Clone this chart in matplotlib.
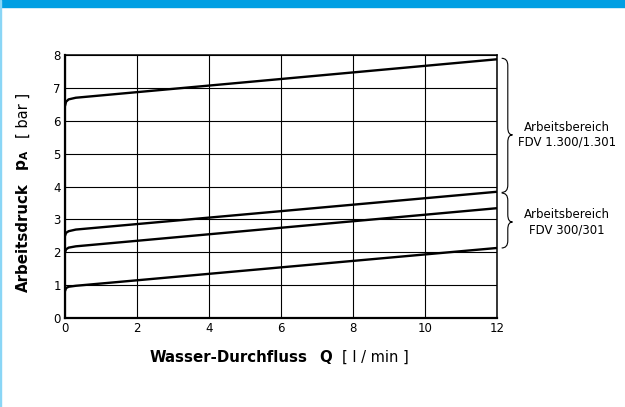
import numpy as np
import matplotlib.pyplot as plt
from matplotlib.path import Path
from matplotlib.patches import PathPatch, Rectangle

plt.rcParams['font.family'] = ['DejaVu Sans']

# Kennlinien
q = [0, 0.03, 0.1, 0.3, 12]
p_1300 = [6.45, 6.58, 6.65, 6.70, 7.87]
p_300_hi = [2.50, 2.59, 2.64, 2.69, 3.84]
p_300_lo = [2.00, 2.09, 2.14, 2.18, 3.34]
p_low = [0.82, 0.91, 0.95, 0.98, 2.13]

x_ticks = [0, 2, 4, 6, 8, 10, 12]
y_ticks = [0, 1, 2, 3, 4, 5, 6, 7, 8]

# Arbeitsbereiche: (bottom, top, tip of brace) and labels
ranges = [(3.82, 7.9, 5.57), (2.13, 3.8, 2.92)]
range_labels = ["Arbeitsbereich\nFDV 1.300/1.301", "Arbeitsbereich\nFDV 300/301"]

fig = plt.figure(figsize=(6.25, 4.07), dpi=100)
fig.patches.append(Rectangle((0, 1 - 7 / 407), 1, 7 / 407, transform=fig.transFigure,
                             color='#009fe3', zorder=0))
fig.patches.append(Rectangle((0, 0), 1.5 / 625, 1, transform=fig.transFigure,
                             color='#8ad6f6', zorder=0))

ax = fig.add_axes([65 / 625, 89 / 407, 432 / 625, 263 / 407])
ax.set_xlim(0, 12)
ax.set_ylim(0, 8)
ax.set_xticks(x_ticks)
ax.set_yticks(y_ticks)
ax.grid(True, color='black', linewidth=0.8)
ax.tick_params(length=0, labelsize=8.5, pad=3)
for s in ['left', 'bottom']:
    ax.spines[s].set_linewidth(1.6)
for s in ['top', 'right']:
    ax.spines[s].set_linewidth(1.1)

for ys in [p_1300, p_300_hi, p_300_lo, p_low]:
    ax.plot(q, ys, color='black', linewidth=1.7, solid_capstyle='butt', zorder=3)


def brace(ax, y0, y1, ym, x0=12.13, x1=12.3, x2=12.43, r=0.22):
    verts = [(x0, y1), (x1, y1), (x1, y1 - r),
             (x1, ym + r), (x1, ym), (x2, ym),
             (x1, ym), (x1, ym - r),
             (x1, y0 + r), (x1, y0), (x0, y0)]
    codes = [Path.MOVETO, Path.CURVE3, Path.CURVE3,
             Path.LINETO, Path.CURVE3, Path.CURVE3,
             Path.CURVE3, Path.CURVE3,
             Path.LINETO, Path.CURVE3, Path.CURVE3]
    ax.add_patch(PathPatch(Path(verts, codes), fill=False, lw=0.8,
                           color='black', clip_on=False))


for (y0, y1, ym), lab in zip(ranges, range_labels):
    brace(ax, y0, y1, ym)
    ax.text(13.94, ym, lab, ha='center', va='center', fontsize=8.5,
            linespacing=1.2, clip_on=False)

# axis titles
yx = 1 - 357 / 407
fig.text(150 / 625, yx, "Wasser-Durchfluss", fontsize=10.8, weight='bold',
         ha='left', va='center')
fig.text(319 / 625, yx, "Q", fontsize=10.8, weight='bold', ha='left', va='center')
fig.text(342 / 625, yx, "[ l / min ]", fontsize=10.5, ha='left', va='center')

fig.text(23 / 625, 1 - 238 / 407, "Arbeitsdruck", fontsize=10.8, weight='bold',
         rotation=90, ha='center', va='center')
fig.text(23 / 625, 1 - 160 / 407, r"$\mathbf{p_A}$", fontsize=11, rotation=90,
         ha='center', va='center')
fig.text(23 / 625, 1 - 115 / 407, "[ bar ]", fontsize=10.5, rotation=90,
         ha='center', va='center')

fig.savefig("out.png", dpi=100, facecolor='white')
